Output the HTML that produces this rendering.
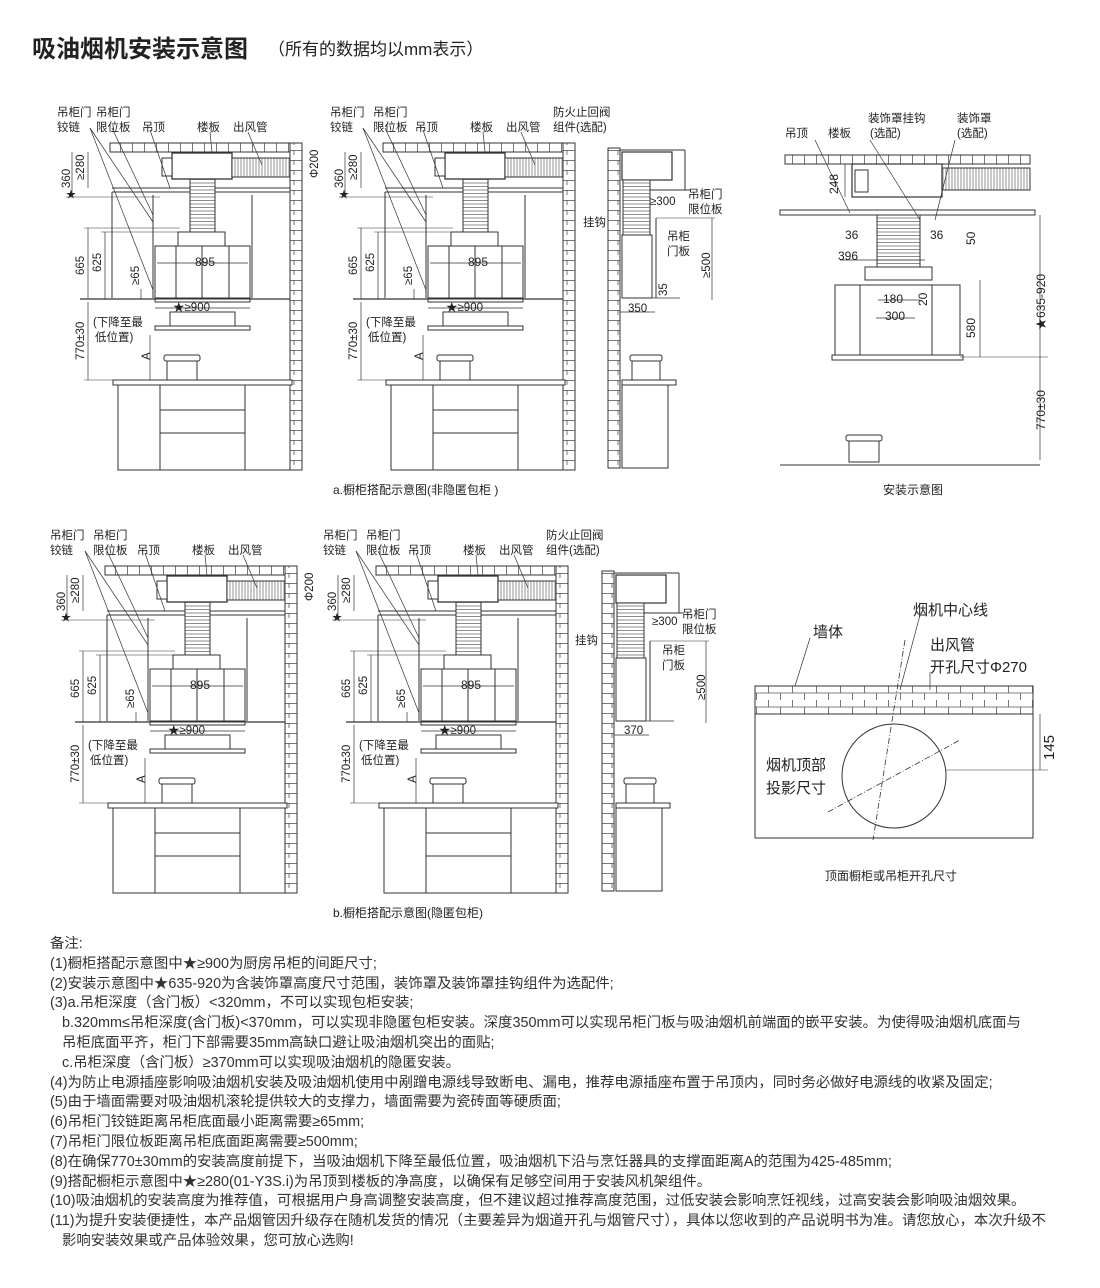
<!DOCTYPE html>
<html><head><meta charset="utf-8"><style>
body{margin:0;background:#fff;width:1100px;height:1288px;overflow:hidden;font-family:"Liberation Sans","Noto Sans CJK SC",sans-serif;color:#222}
svg{position:absolute;left:0;top:0}
text{font-family:"Liberation Sans","Noto Sans CJK SC",sans-serif;fill:#222}
.notes{position:absolute;left:50px;top:935px;font-size:14.4px;line-height:19.8px;color:#333;white-space:nowrap}
</style></head><body>
<svg width="1100" height="1288" viewBox="0 0 1100 1288">
<defs>
<pattern id="brickH" x="0" y="0" width="12" height="9" patternUnits="userSpaceOnUse"><rect width="12" height="9" fill="#fff"/><line x1="0.5" y1="0" x2="0.5" y2="9" stroke="#555" stroke-width="0.8"/></pattern>
<pattern id="brickW" x="0" y="0" width="24" height="14" patternUnits="userSpaceOnUse"><rect width="24" height="14" fill="#fff"/><line x1="0.5" y1="0" x2="0.5" y2="7" stroke="#555" stroke-width="0.8"/><line x1="12.5" y1="7" x2="12.5" y2="14" stroke="#555" stroke-width="0.8"/><line x1="0" y1="7" x2="24" y2="7" stroke="#555" stroke-width="0.8"/></pattern>
<pattern id="brickV" x="0" y="0" width="12" height="10" patternUnits="userSpaceOnUse"><rect width="12" height="10" fill="#fff"/><line x1="0" y1="0.5" x2="12" y2="0.5" stroke="#555" stroke-width="0.8"/><line x1="6" y1="0" x2="6" y2="5" stroke="#555" stroke-width="0.8"/></pattern>
<pattern id="duct" width="3" height="20" patternUnits="userSpaceOnUse"><rect width="3" height="20" fill="#fff"/><line x1="1" y1="0" x2="1" y2="20" stroke="#777" stroke-width="0.8"/></pattern>
<pattern id="bel" width="20" height="3.5" patternUnits="userSpaceOnUse"><rect width="20" height="3.5" fill="#fff"/><line x1="0" y1="1" x2="20" y2="1" stroke="#666" stroke-width="0.7"/></pattern>
<g id="cab" fill="none" stroke="#333" stroke-width="1">
 <rect x="110" y="143" width="182" height="9" fill="url(#brickH)"/>
 <rect x="290" y="143" width="12" height="327" fill="url(#brickV)"/>
 <rect x="172" y="153" width="60" height="26" fill="#fff" stroke-width="1.3"/>
 <rect x="162" y="158" width="10" height="18" fill="#fff"/>
 <rect x="232" y="158" width="58" height="19" fill="url(#duct)"/>
 <line x1="112" y1="188" x2="290" y2="188"/><line x1="112" y1="192" x2="290" y2="192"/>
 <line x1="112" y1="192" x2="112" y2="298"/>
 <line x1="153" y1="195" x2="153" y2="298"/><line x1="252" y1="195" x2="252" y2="298"/>
 <rect x="190" y="179" width="25" height="53" fill="url(#bel)"/>
 <rect x="178" y="232" width="47" height="14" fill="#fff"/>
 <rect x="155" y="246" width="95" height="52" fill="#fff"/>
 <line x1="176" y1="246" x2="176" y2="298"/><line x1="202" y1="246" x2="202" y2="298"/><line x1="229" y1="246" x2="229" y2="298"/>
 <line x1="80" y1="299" x2="290" y2="299" stroke-width="1.2"/>
 <rect x="155" y="299" width="95" height="3" fill="#fff"/>
 <rect x="170" y="312" width="65" height="14" fill="#fff"/>
 <rect x="155" y="326" width="95" height="4" fill="#fff"/>
 <rect x="167" y="360" width="30" height="20" fill="#fff"/><rect x="164" y="355" width="36" height="6" rx="2" fill="#fff"/>
 <rect x="113" y="380" width="179" height="5" fill="#fff"/>
 <rect x="118" y="385" width="172" height="85" fill="#fff"/>
 <line x1="160" y1="385" x2="160" y2="470"/><line x1="245" y1="385" x2="245" y2="470"/>
 <line x1="160" y1="410" x2="245" y2="410"/><line x1="160" y1="433" x2="245" y2="433"/>
 <line x1="72" y1="152" x2="72" y2="197" stroke-width=".7"/><line x1="66" y1="197" x2="160" y2="197" stroke-width=".6"/>
 <line x1="88" y1="152" x2="88" y2="188" stroke-width=".7"/>
 <line x1="88" y1="228" x2="88" y2="299" stroke-width=".7"/><line x1="84" y1="228" x2="180" y2="228" stroke-width=".6"/>
 <line x1="105" y1="232" x2="105" y2="299" stroke-width=".7"/><line x1="101" y1="232" x2="180" y2="232" stroke-width=".6"/>
 <line x1="141" y1="289" x2="141" y2="299" stroke-width=".7"/>
 <line x1="88" y1="302" x2="88" y2="380" stroke-width=".7"/><line x1="84" y1="380" x2="120" y2="380" stroke-width=".6"/>
 <line x1="150" y1="335" x2="150" y2="380" stroke-width=".7"/>
 <line x1="155" y1="308" x2="250" y2="308" stroke-width=".7"/>
 <line x1="157" y1="263" x2="248" y2="263" stroke-width=".7"/>
 <line x1="90" y1="128" x2="153" y2="222" stroke-width=".7"/><line x1="90" y1="128" x2="153" y2="290" stroke-width=".7"/>
 <line x1="112" y1="128" x2="153" y2="215" stroke-width=".7"/>
 <line x1="150" y1="130" x2="170" y2="188" stroke-width=".7"/>
 <line x1="210" y1="132" x2="212" y2="152" stroke-width=".7"/>
 <line x1="248" y1="132" x2="262" y2="165" stroke-width=".7"/>
</g>
<g id="side" fill="none" stroke="#333" stroke-width="1">
 <rect x="608" y="148" width="12" height="320" fill="url(#brickV)"/>
 <rect x="622" y="152" width="50" height="28" fill="#fff" stroke-width="1.2"/>
 <line x1="620" y1="150" x2="685" y2="150"/><line x1="685" y1="150" x2="685" y2="190"/>
 <rect x="623" y="180" width="27" height="55" fill="url(#bel)"/>
 <line x1="650" y1="190" x2="690" y2="190"/>
 <rect x="622" y="235" width="30" height="63" fill="#fff"/>
 <line x1="656" y1="218" x2="656" y2="298"/><line x1="656" y1="218" x2="715" y2="218" stroke-width=".6"/>
 <line x1="622" y1="298" x2="680" y2="298" stroke-width=".7"/>
 <line x1="712" y1="218" x2="712" y2="300" stroke-width=".7"/>
 <line x1="620" y1="312" x2="655" y2="312" stroke-width=".7"/>
 <rect x="632" y="360" width="28" height="20" fill="#fff"/><rect x="630" y="355" width="32" height="6" rx="2" fill="#fff"/>
 <rect x="622" y="380" width="54" height="5" fill="#fff"/>
 <rect x="622" y="385" width="46" height="83" fill="#fff"/>
</g>
</defs>

<text x="32" y="57" font-size="24" font-weight="bold">吸油烟机安装示意图</text>
<text x="268" y="55" font-size="17">（所有的数据均以mm表示）</text>

<!-- a1 -->
<use href="#cab"/>
<g font-size="11.5">
<text x="57" y="116">吊柜门</text><text x="57" y="131">铰链</text>
<text x="96" y="116">吊柜门</text><text x="96" y="131">限位板</text>
<text x="142" y="131">吊顶</text><text x="197" y="131">楼板</text><text x="233" y="131">出风管</text>
<text x="195" y="266" font-size="12">895</text><text x="173" y="311">★≥900</text>
<text x="93" y="326">(下降至最</text><text x="95" y="341">低位置)</text>
<text transform="translate(70,188) rotate(-90)">360</text><text transform="translate(84,180) rotate(-90)">≥280</text>
<text x="66" y="198" font-size="10">★</text>
<text transform="translate(318,178) rotate(-90)">Φ200</text>
<text transform="translate(84,275) rotate(-90)">665</text><text transform="translate(101,272) rotate(-90)">625</text>
<text transform="translate(139,285) rotate(-90)">≥65</text>
<text transform="translate(84,360) rotate(-90)">770±30</text><text transform="translate(150,360) rotate(-90)">A</text>
</g>
<!-- a2 -->
<g transform="translate(273,0)"><use href="#cab"/>
<g font-size="11.5">
<text x="57" y="116">吊柜门</text><text x="57" y="131">铰链</text>
<text x="100" y="116">吊柜门</text><text x="100" y="131">限位板</text>
<text x="142" y="131">吊顶</text><text x="197" y="131">楼板</text><text x="233" y="131">出风管</text>
<text x="280" y="116">防火止回阀</text><text x="280" y="131">组件(选配)</text>
<text x="195" y="266" font-size="12">895</text><text x="173" y="311">★≥900</text>
<text x="93" y="326">(下降至最</text><text x="95" y="341">低位置)</text>
<text transform="translate(70,188) rotate(-90)">360</text><text transform="translate(84,180) rotate(-90)">≥280</text>
<text x="66" y="198" font-size="10">★</text>
<text transform="translate(84,275) rotate(-90)">665</text><text transform="translate(101,272) rotate(-90)">625</text>
<text transform="translate(139,285) rotate(-90)">≥65</text>
<text transform="translate(84,360) rotate(-90)">770±30</text><text transform="translate(150,360) rotate(-90)">A</text>
</g></g>
<use href="#side"/>
<g font-size="11.5">
<text x="650" y="205">≥300</text><text x="688" y="198">吊柜门</text><text x="688" y="213">限位板</text>
<text x="583" y="226">挂钩</text><text x="667" y="240">吊柜</text><text x="667" y="255">门板</text>
<text transform="translate(710,278) rotate(-90)">≥500</text><text transform="translate(667,296) rotate(-90)">35</text>
<text x="628" y="312">350</text>
<text x="333" y="494" font-size="12">a.橱柜搭配示意图(非隐匿包柜 )</text>
</g>

<!-- b1 -->
<g transform="translate(-5,423)"><use href="#cab"/>
<g font-size="11.5">
<text x="55" y="116">吊柜门</text><text x="55" y="131">铰链</text>
<text x="98" y="116">吊柜门</text><text x="98" y="131">限位板</text>
<text x="142" y="131">吊顶</text><text x="197" y="131">楼板</text><text x="233" y="131">出风管</text>
<text x="195" y="266" font-size="12">895</text><text x="173" y="311">★≥900</text>
<text x="93" y="326">(下降至最</text><text x="95" y="341">低位置)</text>
<text transform="translate(70,188) rotate(-90)">360</text><text transform="translate(84,180) rotate(-90)">≥280</text>
<text x="66" y="198" font-size="10">★</text>
<text transform="translate(318,178) rotate(-90)">Φ200</text>
<text transform="translate(84,275) rotate(-90)">665</text><text transform="translate(101,272) rotate(-90)">625</text>
<text transform="translate(139,285) rotate(-90)">≥65</text>
<text transform="translate(84,360) rotate(-90)">770±30</text><text transform="translate(150,360) rotate(-90)">A</text>
</g></g>
<!-- b2 -->
<g transform="translate(266,423)"><use href="#cab"/>
<g font-size="11.5">
<text x="57" y="116">吊柜门</text><text x="57" y="131">铰链</text>
<text x="100" y="116">吊柜门</text><text x="100" y="131">限位板</text>
<text x="142" y="131">吊顶</text><text x="197" y="131">楼板</text><text x="233" y="131">出风管</text>
<text x="280" y="116">防火止回阀</text><text x="280" y="131">组件(选配)</text>
<text x="195" y="266" font-size="12">895</text><text x="173" y="311">★≥900</text>
<text x="93" y="326">(下降至最</text><text x="95" y="341">低位置)</text>
<text transform="translate(70,188) rotate(-90)">360</text><text transform="translate(84,180) rotate(-90)">≥280</text>
<text x="66" y="198" font-size="10">★</text>
<text transform="translate(84,275) rotate(-90)">665</text><text transform="translate(101,272) rotate(-90)">625</text>
<text transform="translate(139,285) rotate(-90)">≥65</text>
<text transform="translate(84,360) rotate(-90)">770±30</text><text transform="translate(150,360) rotate(-90)">A</text>
</g></g>
<g transform="translate(-6,423)"><use href="#side"/></g>
<g font-size="11.5">
<text x="652" y="625">≥300</text><text x="682" y="618">吊柜门</text><text x="682" y="633">限位板</text>
<text x="575" y="644">挂钩</text><text x="662" y="654">吊柜</text><text x="662" y="669">门板</text>
<text transform="translate(705,700) rotate(-90)">≥500</text>
<text x="624" y="734">370</text>
<text x="333" y="917" font-size="12">b.橱柜搭配示意图(隐匿包柜)</text>
</g>

<!-- install diagram -->
<g fill="none" stroke="#333" stroke-width="1">
 <rect x="785" y="155" width="245" height="9" fill="url(#brickH)"/>
 <rect x="780" y="210" width="255" height="5" fill="#fff"/>
 <rect x="852" y="164" width="90" height="33" fill="#fff" stroke-width="1.2"/>
 <rect x="855" y="170" width="13" height="22" fill="#fff"/>
 <rect x="942" y="168" width="88" height="22" fill="url(#duct)"/>
 <rect x="877" y="215" width="43" height="58" fill="url(#bel)"/>
 <rect x="865" y="267" width="67" height="13" fill="#fff"/>
 <rect x="835" y="285" width="125" height="70" fill="#fff"/>
 <line x1="860" y1="285" x2="860" y2="355"/><line x1="932" y1="285" x2="932" y2="355"/>
 <rect x="832" y="355" width="131" height="5" fill="#fff"/>
 <line x1="780" y1="465" x2="1040" y2="465"/>
 <rect x="849" y="440" width="30" height="22" fill="#fff"/><rect x="846" y="435" width="36" height="6" rx="2" fill="#fff"/>
 <line x1="1040" y1="215" x2="1040" y2="460" stroke-width=".7"/><line x1="960" y1="357" x2="1048" y2="357" stroke-width=".6"/>
 <line x1="980" y1="280" x2="980" y2="357" stroke-width=".7"/>
 <line x1="845" y1="164" x2="845" y2="197" stroke-width=".7"/>
 <line x1="878" y1="300" x2="920" y2="300" stroke-width=".7"/><line x1="876" y1="318" x2="915" y2="318" stroke-width=".7"/>
 <line x1="840" y1="260" x2="925" y2="260" stroke-width=".7"/>
 <line x1="815" y1="140" x2="850" y2="213" stroke-width=".7"/>
 <line x1="870" y1="140" x2="920" y2="220" stroke-width=".7"/><line x1="955" y1="140" x2="935" y2="220" stroke-width=".7"/>
</g>
<g font-size="11.5">
<text x="868" y="122">装饰罩挂钩</text><text x="870" y="137">(选配)</text>
<text x="957" y="122">装饰罩</text><text x="957" y="137">(选配)</text>
<text x="785" y="137">吊顶</text><text x="828" y="137">楼板</text>
<text transform="translate(838,194) rotate(-90)" font-size="12">248</text>
<text x="845" y="239" font-size="12">36</text><text x="930" y="239" font-size="12">36</text>
<text x="838" y="260" font-size="12">396</text>
<text transform="translate(975,245) rotate(-90)" font-size="12">50</text>
<text x="883" y="303" font-size="12">180</text><text x="885" y="320" font-size="12">300</text>
<text transform="translate(927,306) rotate(-90)" font-size="12">20</text>
<text transform="translate(975,338) rotate(-90)" font-size="12">580</text>
<text transform="translate(1045,330) rotate(-90)" font-size="12">★635-920</text>
<text transform="translate(1045,430) rotate(-90)" font-size="12">770±30</text>
<text x="883" y="494" font-size="12">安装示意图</text>
</g>

<!-- top plan -->
<g fill="none" stroke="#333" stroke-width="1">
 <rect x="755" y="686" width="278" height="28" fill="url(#brickW)"/>
 <rect x="755" y="714" width="278" height="124" fill="#fff"/>
 <circle cx="894" cy="776" r="52"/>
 <line x1="905" y1="640" x2="873" y2="840" stroke-dasharray="6,2,1,2" stroke-width=".8"/>
 <line x1="828" y1="812" x2="960" y2="740" stroke-dasharray="6,2,1,2" stroke-width=".8"/>
 <line x1="1040" y1="714" x2="1040" y2="770" stroke-width=".7"/><line x1="946" y1="770" x2="1048" y2="770" stroke-width=".6"/>
 <line x1="810" y1="638" x2="795" y2="686" stroke-width=".7"/>
 <line x1="920" y1="615" x2="900" y2="690" stroke-width=".7"/>
 <line x1="930" y1="672" x2="930" y2="690" stroke-width=".7"/>
</g>
<g font-size="15">
<text x="813" y="637">墙体</text><text x="913" y="615">烟机中心线</text>
<text x="930" y="650">出风管</text><text x="930" y="672">开孔尺寸Φ270</text>
<text x="766" y="770">烟机顶部</text><text x="766" y="793">投影尺寸</text>
<text transform="translate(1054,760) rotate(-90)">145</text>
<text x="825" y="880" font-size="12">顶面橱柜或吊柜开孔尺寸</text>
</g>
</svg>
<div class="notes">
备注:<br>
(1)橱柜搭配示意图中★≥900为厨房吊柜的间距尺寸;<br>
(2)安装示意图中★635-920为含装饰罩高度尺寸范围，装饰罩及装饰罩挂钩组件为选配件;<br>
(3)a.吊柜深度（含门板）&lt;320mm，不可以实现包柜安装;<br>
&nbsp;&nbsp;&nbsp;b.320mm≤吊柜深度(含门板)&lt;370mm，可以实现非隐匿包柜安装。深度350mm可以实现吊柜门板与吸油烟机前端面的嵌平安装。为使得吸油烟机底面与<br>
&nbsp;&nbsp;&nbsp;吊柜底面平齐，柜门下部需要35mm高缺口避让吸油烟机突出的面贴;<br>
&nbsp;&nbsp;&nbsp;c.吊柜深度（含门板）≥370mm可以实现吸油烟机的隐匿安装。<br>
(4)为防止电源插座影响吸油烟机安装及吸油烟机使用中剐蹭电源线导致断电、漏电，推荐电源插座布置于吊顶内，同时务必做好电源线的收紧及固定;<br>
(5)由于墙面需要对吸油烟机滚轮提供较大的支撑力，墙面需要为瓷砖面等硬质面;<br>
(6)吊柜门铰链距离吊柜底面最小距离需要≥65mm;<br>
(7)吊柜门限位板距离吊柜底面距离需要≥500mm;<br>
(8)在确保770±30mm的安装高度前提下，当吸油烟机下降至最低位置，吸油烟机下沿与烹饪器具的支撑面距离A的范围为425-485mm;<br>
(9)搭配橱柜示意图中★≥280(01-Y3S.i)为吊顶到楼板的净高度，以确保有足够空间用于安装风机架组件。<br>
(10)吸油烟机的安装高度为推荐值，可根据用户身高调整安装高度，但不建议超过推荐高度范围，过低安装会影响烹饪视线，过高安装会影响吸油烟效果。<br>
(11)为提升安装便捷性，本产品烟管因升级存在随机发货的情况（主要差异为烟道开孔与烟管尺寸），具体以您收到的产品说明书为准。请您放心，本次升级不<br>
&nbsp;&nbsp;&nbsp;影响安装效果或产品体验效果，您可放心选购!
</div>
</body></html>
